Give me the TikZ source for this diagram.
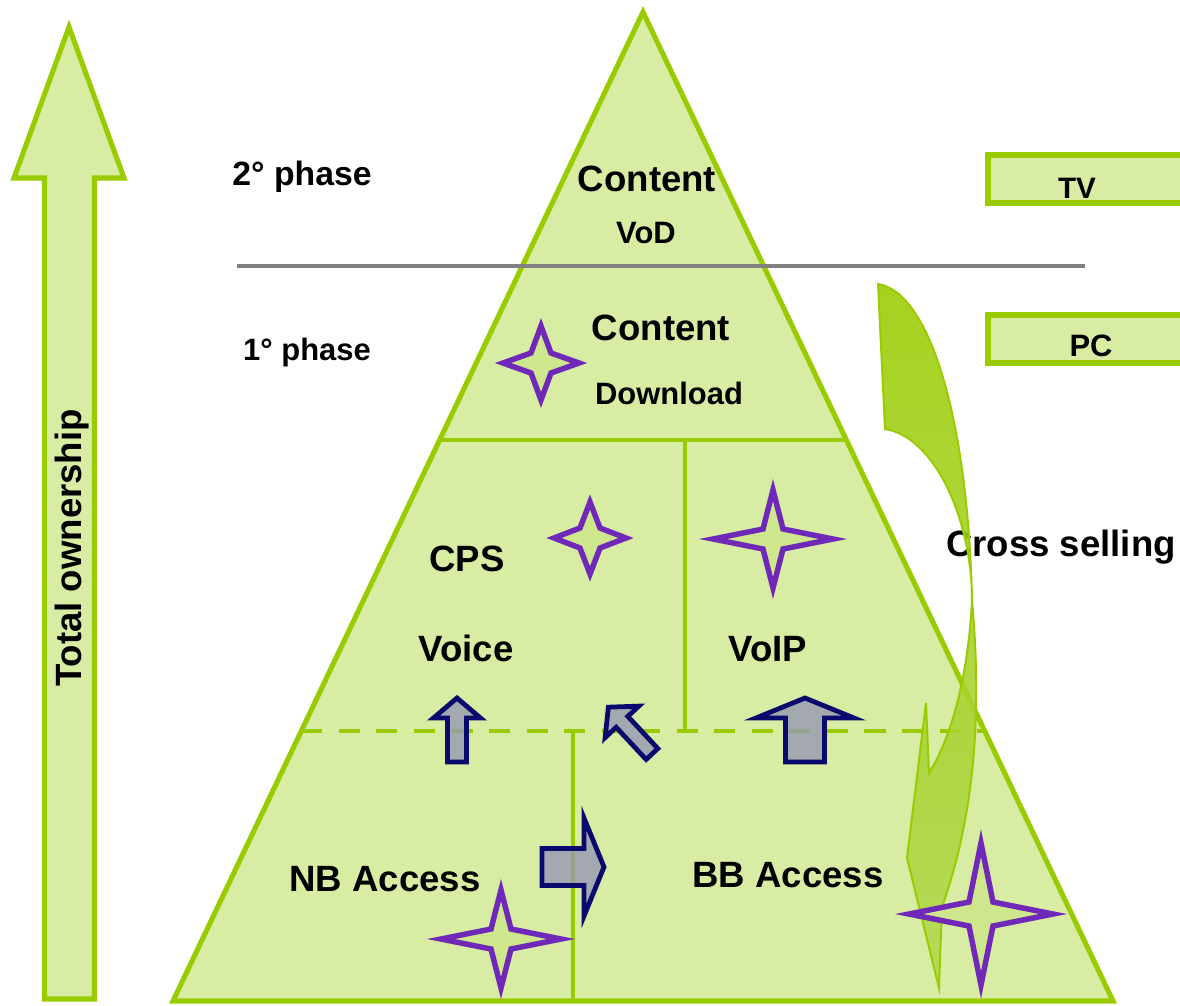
\documentclass[tikz,border=0pt]{standalone}
\usepackage{fontspec}
\setmainfont{Liberation Sans}
\usepackage{xcolor}
\usetikzlibrary{calc}

\definecolor{leafgreen}{RGB}{153,204,0}
\definecolor{paleleaf}{RGB}{216,236,164}
\definecolor{starfill}{RGB}{206,231,140}
\definecolor{violetline}{RGB}{112,40,185}
\definecolor{navyline}{RGB}{10,10,110}
\definecolor{steelfill}{RGB}{150,153,178}
\definecolor{phasegray}{RGB}{128,128,128}
\definecolor{crosslight}{RGB}{178,216,80}

\begin{document}
\begin{tikzpicture}[x=0.025cm, y=-0.025cm,
    rim/.style={draw=leafgreen, line width=3.6pt, fill=paleleaf, line join=miter},
    divider/.style={draw=leafgreen, line width=2.9pt},
    dashdiv/.style={divider, dash pattern=on 15pt off 11.7pt},
    phaseline/.style={draw=phasegray, line width=2.8pt},
    lbl/.style={inner sep=0pt, anchor=base, font=\bfseries\fontsize{26}{30}\selectfont},
    midlbl/.style={lbl, font=\bfseries\fontsize{22}{26}\selectfont},
    starline/.style={draw=violetline, line width=3.9pt, fill=starfill, line join=miter},
    navyarrow/.style={draw=navyline, line width=3.4pt, fill=steelfill,
        fill opacity=0.8, line join=miter},
    crossarrow/.style={draw=leafgreen, line width=1.4pt, top color=leafgreen,
        bottom color=crosslight, fill opacity=0.88},
    pics/sparkle/.style n args={3}{code={
        \path[starline] (0,-#2) -- (#3,-#3) -- (#1,0) -- (#3,#3) -- (0,#2)
          -- (-#3,#3) -- (-#1,0) -- (-#3,-#3) -- cycle;}},
    pics/blockarrow/.style n args={4}{code={
        \path[navyarrow] (0,-#4) -- ({#1-#2},-#4) -- ({#1-#2},-#3) -- (#1,0)
          -- ({#1-#2},#3) -- ({#1-#2},#4) -- (0,#4) -- cycle;}},
  ]

  \clip (0,0) rectangle (1180,1006);

  %% ── ownership arrow ─────────────────────────────────────────────────────
  \path[rim] (69,27) -- (124,178) -- (94.5,178) -- (94.5,999) -- (44.5,999)
    -- (44.5,178) -- (14,178) -- cycle;
  \node[lbl, rotate=90] (owner) at (81,548) {Total ownership};

  %% ── pyramid ─────────────────────────────────────────────────────────────
  \coordinate (apex) at (643,12);
  \coordinate (bl) at (173,1001);
  \coordinate (br) at (1113,1001);
  \path[rim] (apex) -- (br) -- (bl) -- cycle;

  \draw[divider] ($(apex)!0.4327!(bl)$) -- ($(apex)!0.4327!(br)$);
  \draw[dashdiv] ($(apex)!0.7270!(bl)$) -- ($(apex)!0.7270!(br)$);
  \draw[divider] (685,440) -- (685,731);
  \draw[divider] (573,731) -- (573,1001);

  \draw[phaseline] (237,266) -- (1085,266);

  %% ── devices ─────────────────────────────────────────────────────────────
  \path[rim] (988,155) rectangle (1195,203);
  \path[rim] (988,315) rectangle (1195,363);
  \node[lbl, font=\bfseries\fontsize{21}{25}\selectfont] (tv) at (1077,198) {TV};
  \node[midlbl] (pc) at (1091,356) {PC};

  %% ── labels ──────────────────────────────────────────────────────────────
  \node[lbl, font=\bfseries\fontsize{24}{28}\selectfont] (phase2) at (302,185) {2° phase};
  \node[midlbl] (phase1) at (307,360) {1° phase};
  \node[lbl] (content2) at (647,191) {Content};
  \node[midlbl] (vod) at (646,243) {VoD};
  \node[lbl] (content1) at (661,340) {Content};
  \node[midlbl] (download) at (669,404) {Download};
  \node[lbl] (cps) at (467,571) {CPS};
  \node[lbl] (voice) at (466,661) {Voice};
  \node[lbl] (voip) at (768,661) {VoIP};
  \node[lbl] (nbaccess) at (385,891) {NB Access};
  \node[lbl] (bbaccess) at (788,887) {BB Access};
  \node[lbl] (crosssell) at (1061,556) {Cross selling};

  %% ── cross selling arrow ─────────────────────────────────────────────────
  \path[crossarrow] (878,284) .. controls (930,292) and (968,420) .. (972,600)
    .. controls (980,690) and (980,800) .. (942,907) -- (939,988) -- (907,858)
    -- (926,703) -- (929,773) .. controls (950,740) and (968,680) .. (972,600)
    .. controls (972,520) and (935,437) .. (885,429) -- cycle;

  %% ── stars ───────────────────────────────────────────────────────────────
  \pic at (541,363) {sparkle={38}{37}{10}};
  \pic at (590,538) {sparkle={36}{36}{10}};
  \pic at (773,539) {sparkle={60}{49}{10}};
  \pic at (501,939) {sparkle={60}{49}{10}};
  \pic at (981,914) {sparkle={72}{71}{12}};

  %% ── migration arrows ────────────────────────────────────────────────────
  \pic[rotate=90] at (457,762) {blockarrow={64}{20}{23.5}{9.5}};
  \pic[rotate=90] at (805,762) {blockarrow={64}{20}{49}{19.5}};
  \pic[rotate=133] at (652,754) {blockarrow={64}{20}{23}{8}};
  \pic at (542,867) {blockarrow={62}{20}{49}{18.5}};

\end{tikzpicture}
\end{document}
